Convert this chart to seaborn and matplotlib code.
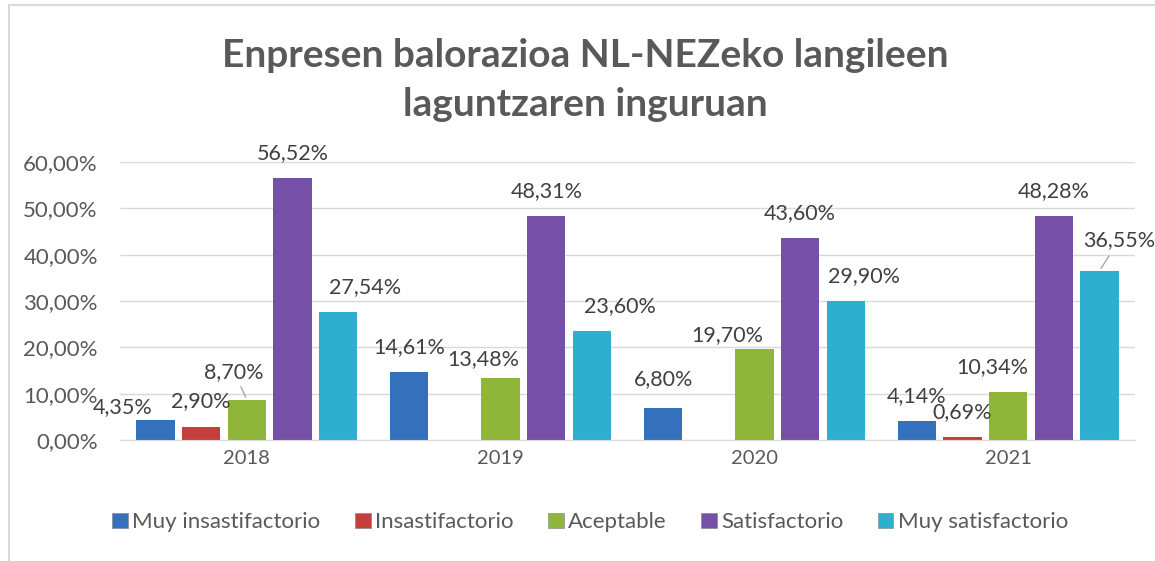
import pandas as pd
import numpy as np
import matplotlib
matplotlib.use("Agg")
import matplotlib.pyplot as plt
from matplotlib.lines import Line2D
import seaborn as sns

# data (percent)
years = ["2018", "2019", "2020", "2021"]
levels = ["Muy insastifactorio", "Insastifactorio", "Aceptable", "Satisfactorio", "Muy satisfactorio"]
muy_insatisf = [4.35, 14.61, 6.80, 4.14]
insatisf = [2.90, np.nan, np.nan, 0.69]
aceptable = [8.70, 13.48, 19.70, 10.34]
satisf = [56.52, 48.31, 43.60, 48.28]
muy_satisf = [27.54, 23.60, 29.90, 36.55]
y_ticks = [0, 10, 20, 30, 40, 50, 60]

colors = ["#3570BD", "#C43F3B", "#8FB63A", "#7650A6", "#2FAFD0"]

rows = []
for lvl, vals in zip(levels, [muy_insatisf, insatisf, aceptable, satisf, muy_satisf]):
    for yr, v in zip(years, vals):
        rows.append({"Year": yr, "Level": lvl, "Value": v})
df = pd.DataFrame(rows)

sns.set_style("white")
plt.rcParams["font.family"] = ["Lato", "DejaVu Sans"]

fig = plt.figure(figsize=(11.55, 5.61), dpi=100)
ax = fig.add_axes([0.1039, 0.2157, 0.8788, 0.4955])

sns.barplot(data=df.dropna(), x="Year", y="Value", hue="Level", order=years,
            hue_order=levels, palette=colors, saturation=1, errorbar=None,
            width=0.9, gap=0.16, edgecolor="none", ax=ax)

ax.set_ylim(0, 60)
ax.set_yticks(y_ticks)
ax.set_yticklabels([f"{t:.2f}%".replace(".", ",") for t in y_ticks])
ax.set_xlim(-0.5, 3.5)
ax.grid(axis="y", color="#D9D9D9", linewidth=1)
ax.set_axisbelow(True)
for s in ["top", "right", "left"]:
    ax.spines[s].set_visible(False)
ax.spines["bottom"].set_color("#D9D9D9")
ax.tick_params(axis="both", length=0, labelcolor="#595959")
ax.tick_params(axis="y", pad=16, labelsize=16)
ax.tick_params(axis="x", pad=7, labelsize=14.5)
ax.set_xlabel("")
ax.set_ylabel("")

# label offsets in pixels (dx, dy) for labels that were moved in the original
offsets = {
    ("2018", 0): (-33, -12), ("2018", 2): (-13, 3), ("2018", 4): (27, 0),
    ("2019", 2): (-17, -7), ("2019", 4): (28, 0),
    ("2020", 0): (1, 4), ("2020", 2): (-27, -11), ("2020", 4): (18, 0),
    ("2021", 2): (-16, 0), ("2021", 4): (20, 6),
}
leader = {("2018", 2), ("2021", 4)}

for hi, cont in enumerate(ax.containers):
    for bar in cont:
        h = bar.get_height()
        if np.isnan(h):
            continue
        xc = bar.get_x() + bar.get_width() / 2
        yr = years[int(round(xc))]
        dx, dy = offsets.get((yr, hi), (0, 0))
        txt = f"{h:.2f}%".replace(".", ",")
        ax.annotate(txt, xy=(xc, h), xytext=(dx, 25 + dy), textcoords="offset pixels",
                    ha="center", va="center", fontsize=15.5, color="#404040")
        if (yr, hi) in leader:
            ax.annotate("", xy=(xc, h), xytext=(dx * 0.55, 14 + dy * 0.5),
                        textcoords="offset pixels",
                        arrowprops=dict(arrowstyle="-", color="#A6A6A6", lw=1))

ax.legend_.remove()
handles = [plt.Rectangle((0, 0), 1, 1, facecolor=c, edgecolor="#7F7F7F", linewidth=0.4) for c in colors]
legend_labels = ["Muy insastifactorio", "Insastifactorio", "Aceptable", "Satisfactorio", "Muy satisfactorio"]
fig.legend(handles, legend_labels, loc="center", bbox_to_anchor=(0.511, 0.069), ncol=5,
           frameon=False, fontsize=16, handlelength=0.7, handleheight=0.7,
           handletextpad=0.2, columnspacing=1.55, labelcolor="#595959")

fig.text(0.507, 0.857, "Enpresen balorazioa NL-NEZeko langileen\nlaguntzaren inguruan",
         ha="center", va="center", fontsize=28, fontweight="bold", color="#595959",
         linespacing=1.5)

# chart frame (top and left edges visible in the crop)
fig.add_artist(Line2D([0.0075, 1.0], [0.9911, 0.9911], color="#D9D9D9", lw=1.5))
fig.add_artist(Line2D([0.0075, 0.0075], [0.0, 0.9911], color="#D9D9D9", lw=1.5))

fig.savefig("out.png", dpi=100)
